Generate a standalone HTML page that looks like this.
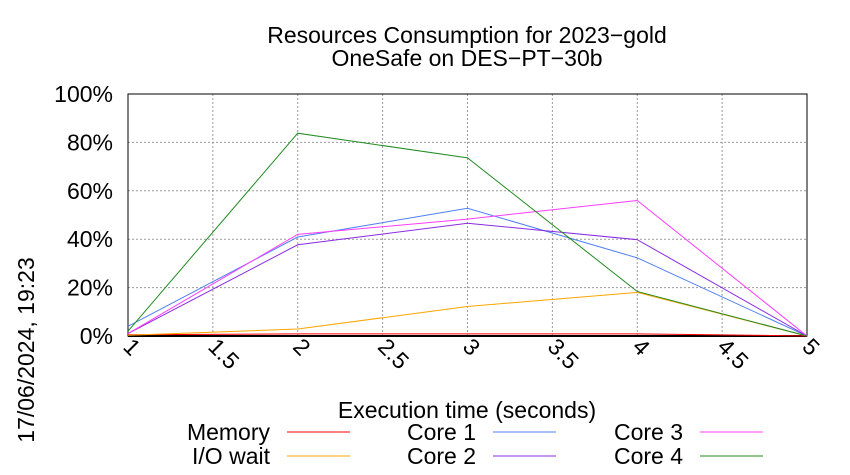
<!DOCTYPE html>
<html><head><meta charset="utf-8"><style>
body{margin:0;background:#fff}
svg{display:block;font-family:"Liberation Sans",sans-serif}
</style></head><body>
<svg id="c" width="850" height="475" viewBox="0 0 850 475">
<text x="467" y="43" text-anchor="middle" font-size="23">Resources Consumption for 2023−gold</text>
<text x="467" y="66" text-anchor="middle" font-size="23">OneSafe on DES−PT−30b</text>
<text transform="translate(34,350) rotate(-90)" text-anchor="middle" font-size="23">17/06/2024, 19:23</text>
<text x="467" y="418" text-anchor="middle" font-size="23">Execution time (seconds)</text>
<g id="grid"></g><g id="axes"></g><g id="series"></g><g id="legend"></g>
</svg>
<script>
const xTicks=[1,1.5,2,2.5,3,3.5,4,4.5,5];
const xTickLabels=["1","1.5","2","2.5","3","3.5","4","4.5","5"];
const yTicks=[0,20,40,60,80,100];
const yTickLabels=["0%","20%","40%","60%","80%","100%"];
const times=[1,2,3,4,5];
const seriesNames=["Memory","I/O wait","Core 1","Core 2","Core 3","Core 4"];
const seriesColors=["#ff0000","#ffa500","#4f7fef","#8a2be2","#ff3cff","#228b22"];
const memory=[0.5,0.9,0.9,0.9,0];
const ioWait=[0.3,2.9,12.2,18,0];
const core1=[4,40.9,52.8,32.3,0];
const core2=[1,37.7,46.6,39.8,0];
const core3=[1,42,48.3,56,0];
const core4=[2,83.8,73.6,18.4,0];
const seriesData=[memory,ioWait,core1,core2,core3,core4];
const X0=128,X1=807,Y0=336,Y1=94;
const sx=v=>X0+(v-1)/(5-1)*(X1-X0);
const sy=v=>Y0-v/100*(Y0-Y1);
const NS="http://www.w3.org/2000/svg";
function mk(t,a,p){const e=document.createElementNS(NS,t);for(const k in a)e.setAttribute(k,a[k]);p.appendChild(e);return e;}
const g=document.getElementById('grid'),ax=document.getElementById('axes'),se=document.getElementById('series'),lg=document.getElementById('legend');
yTicks.forEach((v,i)=>{
 const l=mk('line',{x1:X0,x2:X1,y1:sy(v),y2:sy(v),stroke:'#999','stroke-dasharray':'2,2','stroke-width':1},g);
 
 
 const t=mk('text',{x:X0-15,y:sy(v)+8,'text-anchor':'end','font-size':23},ax);t.textContent=yTickLabels[i];
 
 
});
xTicks.forEach((v,i)=>{
 const l=mk('line',{x1:sx(v),x2:sx(v),y1:Y0,y2:Y1,stroke:'#999','stroke-dasharray':'2,2','stroke-width':1},g);
 
 
 const t=mk('text',{transform:`translate(${sx(v)-6},${Y0+12}) rotate(45)`,'font-size':23},ax);t.textContent=xTickLabels[i];
 
 
});
const fr=mk('rect',{x:X0,y:Y1,width:X1-X0,height:Y0-Y1,fill:'none',stroke:'#000','stroke-width':1},ax);


const bl=mk('line',{x1:X0,x2:X1,y1:Y0,y2:Y0,stroke:'#000','stroke-width':2},ax);


seriesData.forEach((d,i)=>{
 const p=mk('polyline',{points:d.map((v,j)=>sx(times[j])+','+sy(v)).join(' '),fill:'none',stroke:seriesColors[i],'stroke-width':1},se);
 
 
});
const colX=[270,476,683],rowY=[432,456];
seriesNames.forEach((n,i)=>{
 const c=Math.floor(i/2),r=i%2;
 const t=mk('text',{x:colX[c],y:rowY[r]+8,'text-anchor':'end','font-size':23},lg);t.textContent=n;
 
 
 const l=mk('line',{x1:colX[c]+17,x2:colX[c]+80,y1:rowY[r],y2:rowY[r],stroke:seriesColors[i],'stroke-width':1},lg);
 
 
});
</script>
</body></html>
